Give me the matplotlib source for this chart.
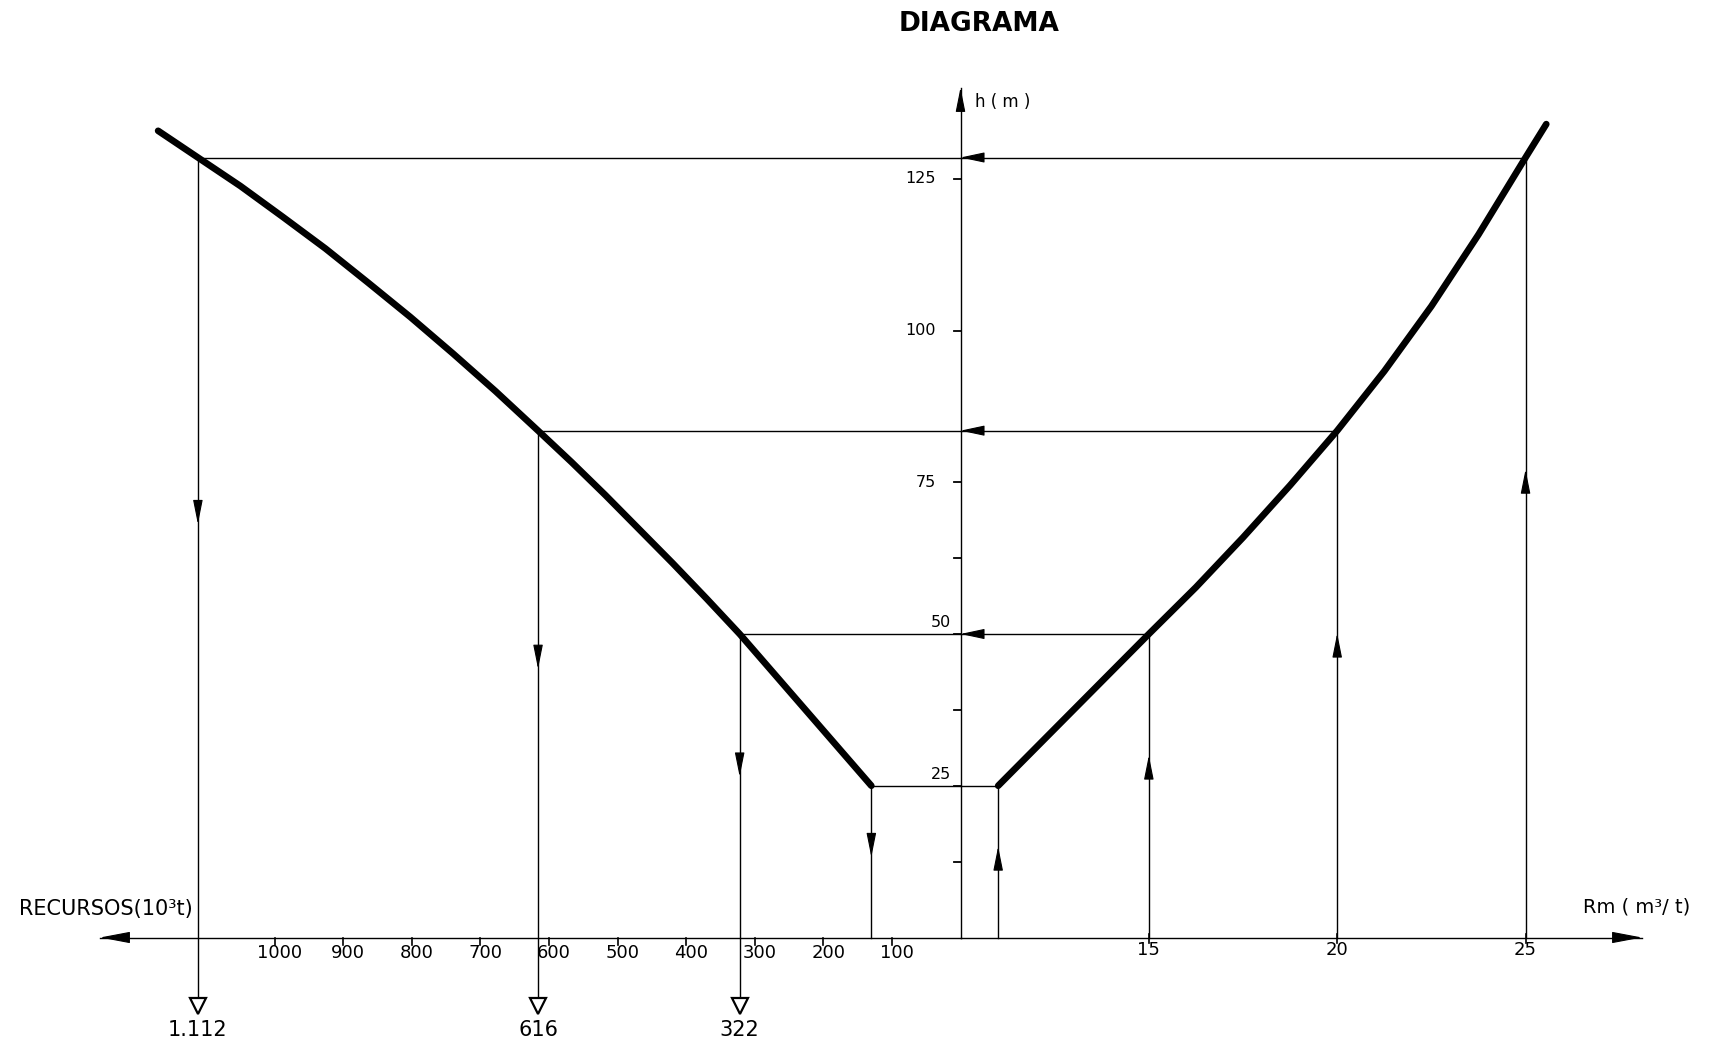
import matplotlib
matplotlib.use("Agg")
import matplotlib.pyplot as plt

# Recursos lavráveis (10^3 t) em função da altura h (m)
recursos = [130, 322, 370, 420, 469, 518, 567, 616, 678, 740, 802, 864, 926, 988,
            1050, 1112, 1170]
h_recursos = [25, 50, 55.8, 61.7, 67.3, 72.9, 78.3, 83.5, 90.0, 96.2, 102.2, 107.9,
              113.5, 118.7, 123.8, 128.5, 132.9]

# Relação estéril/minério Rm (m3/t) em função da altura h (m)
rm = [11, 15, 16.25, 17.5, 18.75, 20, 21.25, 22.5, 23.75, 25, 25.55]
h_rm = [25, 50, 57.7, 65.9, 74.5, 83.5, 93.3, 104, 115.8, 128.5, 134]

# Leituras do diagrama: Rm -> h -> recursos
rm_lidos = [15, 20, 25]
h_lidos = [50, 83.5, 128.5]
recursos_lidos = [322, 616, 1112]
rotulos_recursos = ["322", "616", "1.112"]

# Patamar inferior
rm_base = 11
recursos_base = 130
h_base = 25

# Escalas
ticks_recursos = [100, 200, 300, 400, 500, 600, 700, 800, 900, 1000]
rotulos_ticks_recursos = ["100", "200", "300", "400", "500", "600", "700", "800", "900", "1000"]
ticks_rm = [15, 20, 25]
ticks_h = [25, 50, 75, 100, 125]
ticks_h_menores = [12.5, 37.5, 62.5]

# ---- geometria da folha (pixels) ----
W, H = 1718, 1054
EIXO_X = 960.5          # posição do eixo vertical
H0_Y = 937.5            # posição de h = 0, medida a partir do topo
PX_M = 6.07             # pixels por metro de h
PX_KT = 0.6858          # pixels por 10^3 t
PX_RM = 37.67           # pixels por m3/t
RM_EIXO = 10            # valor de Rm sobre o eixo vertical

fig = plt.figure(figsize=(W / 100, H / 100), dpi=100)
fig.patch.set_facecolor("white")
ylim = ((H0_Y - H) / PX_M, H0_Y / PX_M)

ax_l = fig.add_axes([0, 0, EIXO_X / W, 1])
ax_l.set_xlim(EIXO_X / PX_KT, 0)
ax_r = fig.add_axes([EIXO_X / W, 0, 1 - EIXO_X / W, 1])
ax_r.set_xlim(RM_EIXO, RM_EIXO + (W - EIXO_X) / PX_RM)
for ax in (ax_l, ax_r):
    ax.set_ylim(*ylim)
    ax.axis("off")

def py(px):
    return px / PX_M

def pkt(px):
    return px / PX_KT

def prm(px):
    return px / PX_RM

THIN = 1.0
THICK = 4.8
K = "black"

def linha(ax, xs, ys, **kw):
    kw.setdefault("color", K)
    kw.setdefault("lw", THIN)
    ax.plot(xs, ys, clip_on=False, **kw)

def seta(ax, tip, tail, hl=1.5, hw=0.3):
    ax.annotate("", xy=tip, xytext=tail,
                arrowprops=dict(arrowstyle=f"-|>,head_length={hl},head_width={hw}",
                                color=K, lw=0.8, shrinkA=0, shrinkB=0),
                annotation_clip=False)

# ---- eixos ----
r_seta_esq = pkt(EIXO_X - 100)
linha(ax_l, [0, r_seta_esq], [0, 0])
seta(ax_l, (r_seta_esq, 0), (r_seta_esq - pkt(28), 0), hl=1.9, hw=0.36)
rm_seta_dir = RM_EIXO + prm(1642 - EIXO_X)
linha(ax_r, [RM_EIXO, rm_seta_dir], [0, 0])
seta(ax_r, (rm_seta_dir, 0), (rm_seta_dir - prm(28), 0), hl=1.9, hw=0.36)

h_topo = 140
linha(ax_l, [0, 0], [0, h_topo])
seta(ax_l, (0, h_topo), (0, h_topo - py(22)), hl=1.5, hw=0.3)

# marcas do eixo h
for t in ticks_h + ticks_h_menores:
    linha(ax_l, [0, pkt(7)], [t, t], lw=1.3)
for t in ticks_h:
    if t >= 75:
        ax_l.text(pkt(24.5), t, str(t), ha="right", va="center", fontsize=11.5)
    else:
        ax_l.text(pkt(9.5), t + 1.9, str(t), ha="right", va="center", fontsize=11.5)

# marcas dos recursos
for t, lab in zip(ticks_recursos, rotulos_ticks_recursos):
    linha(ax_l, [t, t], [0, -py(7)], lw=1.2)
    ax_l.text(t - pkt(5), -2.5, lab, ha="center", va="center", fontsize=13)

# marcas de Rm
for t in ticks_rm:
    linha(ax_r, [t, t], [py(4), -py(5)], lw=1.2)
    ax_r.text(t, -2.0, str(t), ha="center", va="center", fontsize=13)

# ---- curvas ----
linha(ax_l, recursos, h_recursos, lw=THICK, solid_capstyle="round",
      solid_joinstyle="round", zorder=5)
linha(ax_r, rm, h_rm, lw=THICK, solid_capstyle="round",
      solid_joinstyle="round", zorder=5)
linha(ax_l, [0, recursos_base], [h_base, h_base])
linha(ax_r, [RM_EIXO, rm_base], [h_base, h_base])

# ---- linhas de leitura ----
F_DESCE = 0.53
F_SOBE = 0.6
h_triangulo = -11.3
h_base_tri = -10.2

for r_, h_, rk, lab in zip(rm_lidos, h_lidos, recursos_lidos, rotulos_recursos):
    # horizontal: da curva Rm até a curva de recursos
    linha(ax_r, [RM_EIXO, r_], [h_, h_])
    seta(ax_r, (RM_EIXO, h_), (RM_EIXO + prm(22), h_), hl=1.5, hw=0.32)
    linha(ax_l, [0, rk], [h_, h_])
    # vertical: do eixo até a curva Rm
    linha(ax_r, [r_, r_], [0, h_])
    tip = F_SOBE * h_
    seta(ax_r, (r_, tip), (r_, tip - py(22)))
    # vertical: da curva de recursos até o valor lido
    linha(ax_l, [rk, rk], [h_, h_base_tri])
    tip = F_DESCE * h_
    seta(ax_l, (rk, tip), (rk, tip + py(22)))
    ax_l.plot([rk], [h_triangulo], marker="v", ms=11, mfc="white", mec=K, mew=1.6,
              zorder=6, clip_on=False)
    ax_l.text(rk, -15.2, lab, ha="center", va="center", fontsize=15)

# patamar inferior
linha(ax_r, [rm_base, rm_base], [0, h_base])
tip = F_SOBE * h_base
seta(ax_r, (rm_base, tip), (rm_base, tip - py(22)))
linha(ax_l, [recursos_base, recursos_base], [0, h_base])
tip = F_DESCE * h_base
seta(ax_l, (recursos_base, tip), (recursos_base, tip + py(22)))

# ---- textos ----
fig.text(979 / W, 1 - 24 / H, "DIAGRAMA", ha="center", va="center",
         fontsize=19, fontweight="bold")
fig.text(975 / W, 1 - 102 / H, "h ( m )", ha="left", va="center", fontsize=12)
fig.text(19 / W, 1 - 909 / H, "RECURSOS(10³t)", ha="left", va="center", fontsize=15)
fig.text(1583 / W, 1 - 907 / H, "Rm ( m³/ t)", ha="left", va="center", fontsize=14)

fig.savefig("out.png", dpi=100, facecolor="white")
